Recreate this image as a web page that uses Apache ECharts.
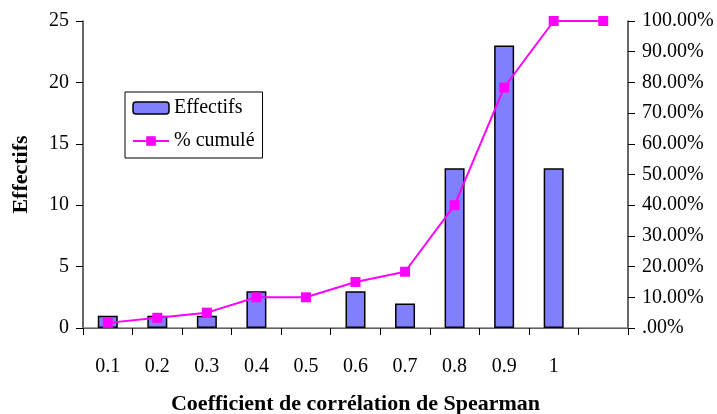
<!DOCTYPE html>
<html>
<head>
<meta charset="utf-8">
<script src="https://cdn.jsdelivr.net/npm/echarts@6/dist/echarts.min.js"></script>
<style>
  html, body { margin: 0; padding: 0; background: #fff; }
  #chart { width: 717px; height: 414px; }
</style>
</head>
<body>
<div id="chart"></div>
<script>
// Spearman correlation coefficient classes (last slot left empty)
const categories = ['0.1', '0.2', '0.3', '0.4', '0.5', '0.6', '0.7', '0.8', '0.9', '1', ''];
// Counts per class
const effectifs = [1, 1, 1, 3, 0, 3, 2, 13, 23, 13, null];
// Cumulative percentage
const cumule = [1.67, 3.33, 5.00, 10.00, 10.00, 15.00, 18.33, 40.00, 78.33, 100.00, 100.00];

const FONT = '"Liberation Serif", "Times New Roman", serif';

// empty classes get no outline so nothing is drawn for them
const barData = effectifs.map(v => v === 0 ? { value: 0, itemStyle: { borderWidth: 0 } } : v);

const chart = echarts.init(document.getElementById('chart'), null, { renderer: 'canvas' });

chart.setOption({
  animation: false,
  backgroundColor: '#ffffff',
  textStyle: { fontFamily: FONT, color: '#000' },
  grid: { left: 83, right: 89, top: 21, bottom: 86, containLabel: false, outerBoundsMode: 'none' },
  legend: {
    left: 125,
    top: 92,
    orient: 'vertical',
    backgroundColor: '#fff',
    borderColor: '#000',
    borderWidth: 1,
    padding: [6, 8, 7, 7],
    itemGap: 13,
    itemWidth: 36,
    itemHeight: 12,
    textStyle: { fontFamily: FONT, fontSize: 20, color: '#000' },
    data: [
      { name: 'Effectifs', itemStyle: { color: '#8080FF', borderColor: '#000', borderWidth: 1.5 } },
      { name: '% cumulé' }
    ]
  },
  xAxis: [
    {
      type: 'category',
      data: categories,
      boundaryGap: true,
      name: 'Coefficient de corrélation de Spearman',
      nameLocation: 'middle',
      nameGap: 65,
      nameTextStyle: { fontFamily: FONT, fontSize: 22, fontWeight: 'bold', color: '#000' },
      axisLine: { lineStyle: { color: '#000', width: 1.2 } },
      axisTick: { show: true, alignWithLabel: false, length: 7, lineStyle: { color: '#000' } },
      axisLabel: { margin: 29, fontFamily: FONT, fontSize: 20, color: '#000' },
      splitLine: { show: false }
    },
    {
      // frame line along the top of the plot area
      type: 'category',
      position: 'top',
      data: categories,
      axisLine: { lineStyle: { color: '#808080', width: 1.5 } },
      axisTick: { show: false },
      axisLabel: { show: false }
    }
  ],
  yAxis: [
    {
      type: 'value',
      min: 0,
      max: 25,
      interval: 5,
      name: 'Effectifs',
      nameLocation: 'middle',
      nameGap: 51,
      nameRotate: 90,
      nameTextStyle: { fontFamily: FONT, fontSize: 22, fontWeight: 'bold', color: '#000' },
      axisLine: { show: true, lineStyle: { color: '#333', width: 1.5 } },
      axisTick: { show: true, length: 7, lineStyle: { color: '#000' } },
      axisLabel: { margin: 14, fontFamily: FONT, fontSize: 20, color: '#000' },
      splitLine: { show: false }
    },
    {
      type: 'value',
      min: 0,
      max: 100,
      interval: 10,
      position: 'right',
      axisLine: { show: true, lineStyle: { color: '#333', width: 1.5 } },
      axisTick: { show: true, length: 7, lineStyle: { color: '#000' } },
      axisLabel: {
        margin: 14,
        fontFamily: FONT,
        fontSize: 20,
        color: '#000',
        formatter: v => v === 0 ? '.00%' : v.toFixed(2) + '%'
      },
      splitLine: { show: false }
    }
  ],
  series: [
    {
      name: 'Effectifs',
      type: 'bar',
      xAxisIndex: 0,
      yAxisIndex: 0,
      data: barData,
      barWidth: 20,
      itemStyle: { color: '#8080FF', borderColor: '#000', borderWidth: 1.5 },
      z: 2
    },
    {
      name: '% cumulé',
      type: 'line',
      xAxisIndex: 0,
      yAxisIndex: 1,
      data: cumule,
      symbol: 'rect',
      symbolSize: 10,
      lineStyle: { color: '#FF00FF', width: 2 },
      itemStyle: { color: '#FF00FF' },
      z: 3
    }
  ]
});
</script>
</body>
</html>
